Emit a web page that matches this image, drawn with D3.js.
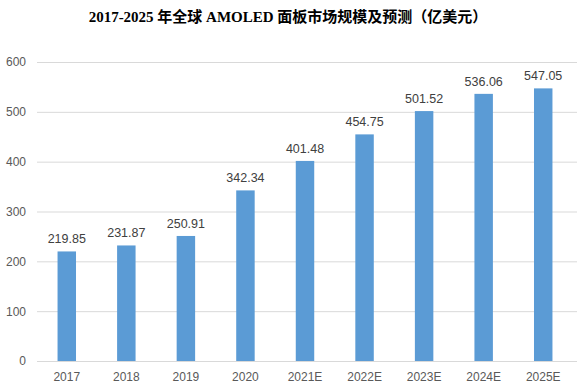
<!DOCTYPE html>
<html>
<head>
<meta charset="utf-8">
<script src="https://cdn.jsdelivr.net/npm/d3@7"></script>
<style>
  body { margin: 0; background: #fff; }
  .tick text { font-family: "Liberation Sans", "DejaVu Sans", sans-serif; font-size: 12px; fill: #595959; }
  .label { font-family: "Liberation Sans", "DejaVu Sans", sans-serif; font-size: 12.5px; fill: #404040; }
</style>
</head>
<body>
<div id="chart"></div>
<script>
const years = ["2017", "2018", "2019", "2020", "2021E", "2022E", "2023E", "2024E", "2025E"];
const marketSize = [219.85, 231.87, 250.91, 342.34, 401.48, 454.75, 501.52, 536.06, 547.05];
const yTicks = [0, 100, 200, 300, 400, 500, 600];

const width = 578;
const height = 392;
const margin = { top: 62, right: 5, bottom: 31, left: 37 };

const svg = d3.select('#chart')
    .append('svg')
        .attr('width', width)
        .attr('height', height);

// title
svg.append('text')
    .attr('x', 288)
    .attr('y', 22)
    .attr('text-anchor', 'middle')
    .style('font-family', '"Liberation Serif", "Noto Sans CJK SC", serif')
    .style('font-weight', 'bold')
    .style('font-size', '15px')
    .style('fill', '#000')
    .text('2017-2025 年全球 AMOLED 面板市场规模及预测（亿美元）');

const x = d3.scaleBand()
    .domain(years)
    .range([margin.left, width - margin.right])
    .paddingInner(0.69)
    .paddingOuter(0.345);

const y = d3.scaleLinear()
    .domain([0, 600])
    .range([height - margin.bottom, margin.top]);

// grid lines + y labels
const yAxis = svg.append('g')
    .attr('transform', `translate(${margin.left},0)`)
    .call(d3.axisLeft(y).tickValues(yTicks).tickSize(-(width - margin.left - 1)).tickPadding(11));
yAxis.select('.domain').remove();
yAxis.selectAll('.tick line')
    .attr('stroke', '#d9d9d9')
    .attr('stroke-width', 1);

// bars
svg.selectAll('rect.bar')
    .data(marketSize)
    .join('rect')
        .attr('class', 'bar')
        .attr('x', (d, i) => x(years[i]))
        .attr('y', d => y(d))
        .attr('width', x.bandwidth())
        .attr('height', d => y(0) - y(d))
        .attr('fill', '#5b9bd5');

// value labels
svg.selectAll('text.label')
    .data(marketSize)
    .join('text')
        .attr('class', 'label')
        .attr('x', (d, i) => x(years[i]) + x.bandwidth() / 2)
        .attr('y', d => y(d) - 8)
        .attr('text-anchor', 'middle')
        .text(d => d.toFixed(2));

// x labels
const xAxis = svg.append('g')
    .attr('transform', `translate(0,${height - margin.bottom})`)
    .call(d3.axisBottom(x).tickSize(0).tickPadding(11));
xAxis.select('.domain').remove();
</script>
</body>
</html>
